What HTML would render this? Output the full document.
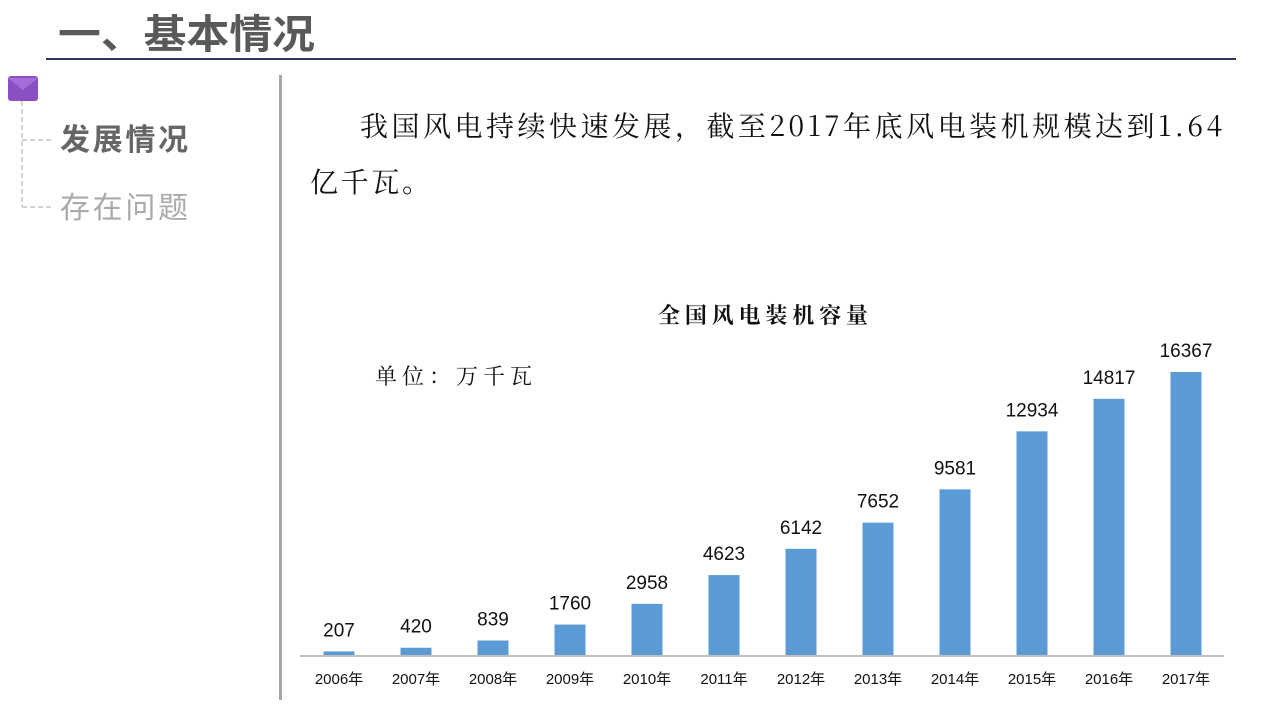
<!DOCTYPE html>
<html><head><meta charset="utf-8"><style>
body{margin:0;width:1280px;height:720px;background:#fff;overflow:hidden;font-family:"Liberation Sans","Noto Sans CJK SC",sans-serif;}
</style></head><body>
<svg width="1280" height="720" xmlns="http://www.w3.org/2000/svg" style="position:absolute;left:0;top:0">
<text x="58" y="48" font-family="Liberation Sans,Noto Sans CJK SC,sans-serif" font-size="40" font-weight="bold" fill="#595959" textLength="257" lengthAdjust="spacingAndGlyphs">一、基本情况</text>
<rect x="46" y="58" width="1190" height="2" fill="#2e3563"/>
<rect x="8" y="76" width="30" height="25" rx="3" fill="#8a4fc2"/>
<polygon points="8,78 23,90 38,78" fill="#b07ce0" opacity="0.7"/>
<path d="M22,101 V207 M22,140 H52 M22,207 H52" stroke="#aaa" stroke-dasharray="5,3" fill="none"/>
<text x="60" y="150" font-size="30" font-weight="bold" fill="#666" font-family="Liberation Sans,Noto Sans CJK SC,sans-serif" textLength="128">发展情况</text>
<text x="60" y="218" font-size="30" fill="#aaa" font-family="Liberation Sans,Noto Sans CJK SC,sans-serif" textLength="128">存在问题</text>
<rect x="279" y="75" width="3" height="625" fill="#a6a6a6"/>
<text x="360" y="136" font-size="28" fill="#111" font-family="Noto Serif CJK SC,serif" textLength="862">我国风电持续快速发展，截至2017年底风电装机规模达到1.64</text>
<text x="310" y="192" font-size="28" fill="#111" font-family="Noto Serif CJK SC,serif" textLength="120">亿千瓦。</text>
<text x="658" y="323" font-size="22" font-weight="bold" fill="#111" font-family="Noto Serif CJK SC,serif" textLength="210">全国风电装机容量</text>
<text x="375" y="384" font-size="22" fill="#111" font-family="Noto Serif CJK SC,serif" textLength="157">单位：万千瓦</text>
<rect x="300" y="655" width="924" height="2" fill="#bfbfbf"/>
<g fill="#5b9bd5" id="bars"></g>
<g font-size="19" text-anchor="middle" fill="#111" font-family="Liberation Sans,sans-serif" id="labels"></g>
<g font-size="15" text-anchor="middle" fill="#111" font-family="Liberation Sans,Noto Sans CJK SC,sans-serif" id="xl"></g>
</svg>
<script>
var v=[207,420,839,1760,2958,4623,6142,7652,9581,12934,14817,16367];
var ns="http://www.w3.org/2000/svg",b=document.getElementById("bars"),l=document.getElementById("labels"),x=document.getElementById("xl");
v.forEach(function(d,i){var cx=339+77*i,h=d*0.01729,y=655-h;
var r=document.createElementNS(ns,"rect");r.setAttribute("x",cx-15.5);r.setAttribute("y",y);r.setAttribute("width",31);r.setAttribute("height",h);b.appendChild(r);
var t=document.createElementNS(ns,"text");t.setAttribute("x",cx);t.setAttribute("y",y-15);t.textContent=d;l.appendChild(t);
var u=document.createElementNS(ns,"text");u.setAttribute("x",cx);u.setAttribute("y",684);u.textContent=(2006+i)+"年";x.appendChild(u);});
</script>
</body></html>
